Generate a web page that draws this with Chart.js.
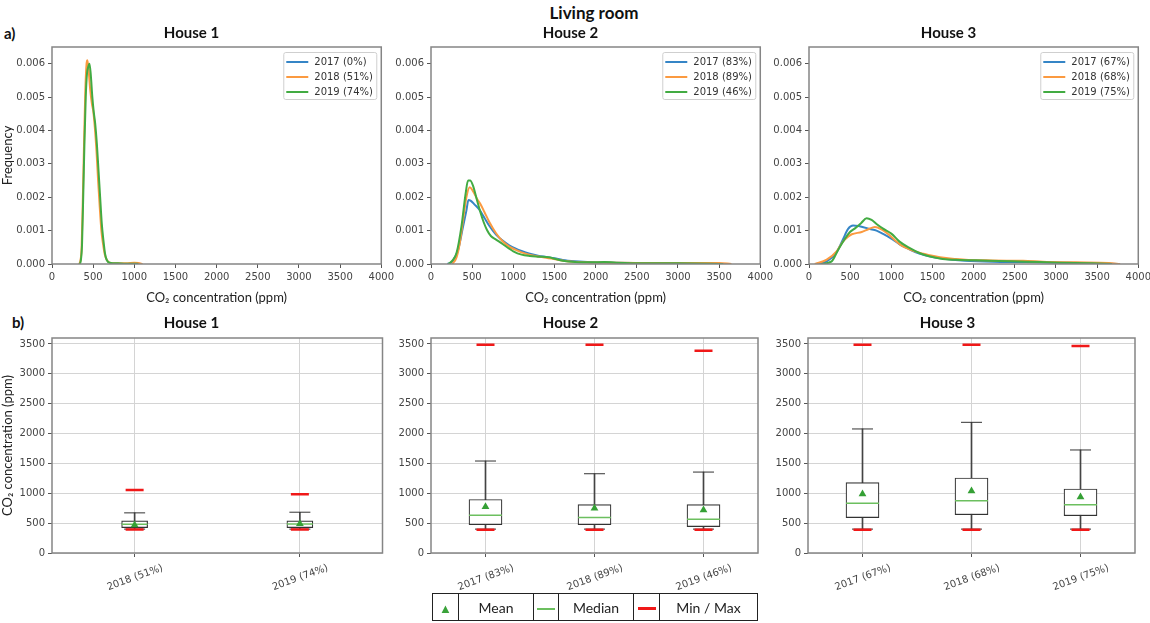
<!DOCTYPE html>
<html>
<head>
<meta charset="utf-8">
<script src="https://cdn.jsdelivr.net/npm/chart.js@4.4.0/dist/chart.umd.min.js"></script>
<style>
  body { margin: 0; background: #fff; width: 1150px; height: 623px; position: relative; overflow: hidden; font-family: Lato, sans-serif; }
  canvas { position: absolute; }
  .head { position: absolute; font-weight: bold; color: #111; white-space: nowrap; }
  #key { position: absolute; left: 432px; top: 593px; border-collapse: collapse; font-size: 14px; color: #222; }
  #key td { border: 1px solid #222; height: 26px; padding: 0; text-align: center; }
  .tri { color: #3aa23a; font-size: 13px; }
  .dash { display: inline-block; width: 18px; height: 2px; vertical-align: middle; }
</style>
</head>
<body>
<div class="head" style="left:0;width:1188px;top:2px;text-align:center;font-size:17px">Living room</div>
<div class="head" style="left:4px;top:24px;font-size:15px">a)</div>
<div class="head" style="left:12px;top:313px;font-size:15px">b)</div>

<canvas id="d1" width="397" height="290"></canvas>
<canvas id="d2" width="397" height="290"></canvas>
<canvas id="d3" width="397" height="290"></canvas>
<canvas id="b1" width="397" height="295"></canvas>
<canvas id="b2" width="397" height="295"></canvas>
<canvas id="b3" width="397" height="295"></canvas>

<table id="key">
  <tr>
    <td style="width:25px"><span class="tri">&#9650;</span></td>
    <td style="width:74px">Mean</td>
    <td style="width:24px"><span class="dash" style="background:#6cbf5f"></span></td>
    <td style="width:74px">Median</td>
    <td style="width:25px"><span class="dash" style="background:#f01818;height:3px"></span></td>
    <td style="width:97px">Min / Max</td>
  </tr>
</table>

<script>
// ---- density curves: CO2 (ppm) vs frequency ----
const h1_2017_ppm = [];
const h1_2017_freq = [];
const h1_2018_ppm = [330, 345, 360, 375, 390, 405, 420, 430, 445, 465, 485, 500, 520, 540, 560, 580, 600, 620, 640, 660, 700, 800, 900, 1000, 1050, 1100];
const h1_2018_freq = [0, 0.0001, 0.0005, 0.0020, 0.0037, 0.0052, 0.0060, 0.0061, 0.0058, 0.0052, 0.0048, 0.0046, 0.0041, 0.0034, 0.0025, 0.0017, 0.0010, 0.0006, 0.0003, 0.00015, 0.00004, 0.00002, 0.00002, 0.00004, 0.00003, 0];
const h1_2019_ppm = [335, 350, 365, 380, 395, 410, 425, 440, 455, 470, 490, 505, 525, 545, 565, 585, 605, 625, 645, 665, 700, 800, 900, 1000, 1050];
const h1_2019_freq = [0, 0.0001, 0.0006, 0.0021, 0.0037, 0.0050, 0.0057, 0.0059, 0.0060, 0.0057, 0.0050, 0.0046, 0.0042, 0.0036, 0.0028, 0.0020, 0.0012, 0.0007, 0.0003, 0.00012, 0.00004, 0.00002, 0.00001, 0.00001, 0];

const h2_2017_ppm = [200, 260, 330, 390, 430, 455, 480, 530, 590, 650, 710, 790, 870, 950, 1030, 1100, 1200, 1300, 1400, 1500, 1600, 1750, 1950, 2200, 2600, 3000, 3400, 3600];
const h2_2017_freq = [0, 0.00008, 0.00043, 0.00113, 0.0016, 0.00192, 0.0019, 0.00178, 0.00162, 0.00138, 0.00114, 0.00088, 0.0007, 0.00056, 0.00046, 0.00039, 0.00031, 0.00025, 0.00021, 0.00017, 0.00012, 0.00008, 0.00005, 0.00004, 0.00003, 0.00002, 0.00001, 0];
const h2_2018_ppm = [260, 310, 350, 390, 430, 470, 510, 560, 600, 650, 710, 790, 870, 950, 1050, 1150, 1270, 1400, 1510, 1650, 1850, 2200, 2600, 3000, 3500, 3650];
const h2_2018_freq = [0, 0.0002, 0.00063, 0.00133, 0.002, 0.0023, 0.00218, 0.00195, 0.0018, 0.00155, 0.00125, 0.00092, 0.00068, 0.00052, 0.0004, 0.00031, 0.00024, 0.00019, 0.00014, 0.00008, 0.00005, 0.00004, 0.00003, 0.00003, 0.00003, 0];
const h2_2019_ppm = [210, 260, 310, 370, 420, 450, 475, 510, 560, 600, 640, 680, 730, 790, 870, 950, 1000, 1100, 1200, 1300, 1430, 1500, 1600, 1750, 1950, 2100, 2250, 2600, 3000, 3400, 3550];
const h2_2019_freq = [0, 0.0001, 0.00033, 0.00113, 0.0021, 0.0025, 0.0025, 0.00235, 0.0019, 0.00155, 0.00125, 0.00102, 0.00083, 0.00073, 0.0006, 0.00046, 0.00038, 0.00028, 0.00024, 0.00022, 0.0002, 0.00016, 0.0001, 0.00006, 0.00005, 0.00006, 0.00004, 0.00002, 0.00002, 0.00001, 0];

const h3_2017_ppm = [90, 215, 335, 415, 475, 535, 600, 660, 740, 820, 900, 1000, 1100, 1220, 1340, 1500, 1665, 1900, 2230, 2630, 3040, 3440, 3760];
const h3_2017_freq = [0, 0.00008, 0.00035, 0.00075, 0.00105, 0.00115, 0.00114, 0.0011, 0.00105, 0.001, 0.0009, 0.00076, 0.00059, 0.00044, 0.00031, 0.00021, 0.00015, 0.0001, 0.00007, 0.00006, 0.00004, 0.00002, 0];
const h3_2018_ppm = [70, 215, 335, 415, 475, 520, 640, 720, 800, 880, 960, 1040, 1120, 1220, 1340, 1500, 1665, 1900, 2150, 2400, 2600, 2840, 3240, 3640, 3780];
const h3_2018_freq = [0, 0.00013, 0.00038, 0.00068, 0.00082, 0.00089, 0.00096, 0.00104, 0.00111, 0.00104, 0.0009, 0.00072, 0.00056, 0.00044, 0.00034, 0.00025, 0.00018, 0.00013, 0.00011, 0.0001, 0.0001, 0.00007, 0.00005, 0.00003, 0];
const h3_2019_ppm = [150, 275, 355, 435, 495, 555, 635, 700, 760, 820, 900, 1000, 1100, 1220, 1340, 1460, 1625, 1830, 2030, 2310, 2630, 3040, 3440, 3680];
const h3_2019_freq = [0, 0.00008, 0.00043, 0.00075, 0.00095, 0.00106, 0.00123, 0.00137, 0.00132, 0.0012, 0.00106, 0.00091, 0.00067, 0.00048, 0.00033, 0.00023, 0.00015, 0.00012, 0.00011, 0.00009, 0.00007, 0.00004, 0.00002, 0];

const h1_keys = ['2017 (0%)', '2018 (51%)', '2019 (74%)'];
const h2_keys = ['2017 (83%)', '2018 (89%)', '2019 (46%)'];
const h3_keys = ['2017 (67%)', '2018 (68%)', '2019 (75%)'];

const freqTicks = [0, 0.001, 0.002, 0.003, 0.004, 0.005, 0.006];
const ppmTicks = [0, 500, 1000, 1500, 2000, 2500, 3000, 3500, 4000];

// ---- box plot statistics (ppm) ----
const h1_cats = ['2018 (51%)', '2019 (74%)'];
const h1_min = [392, 392];
const h1_lo = [400, 400];
const h1_q1 = [425, 425];
const h1_median = [481, 485];
const h1_mean = [470, 490];
const h1_q3 = [537, 537];
const h1_hi = [672, 683];
const h1_max = [1053, 985];

const h2_cats = ['2017 (83%)', '2018 (89%)', '2019 (46%)'];
const h2_min = [390, 390, 390];
const h2_lo = [400, 400, 400];
const h2_q1 = [476, 476, 442];
const h2_median = [633, 594, 566];
const h2_mean = [773, 750, 722];
const h2_q3 = [896, 812, 812];
const h2_hi = [1540, 1327, 1355];
const h2_max = [3488, 3488, 3388];

const h3_cats = ['2017 (67%)', '2018 (68%)', '2019 (75%)'];
const h3_min = [391, 391, 391];
const h3_lo = [400, 400, 400];
const h3_q1 = [592, 642, 625];
const h3_median = [832, 876, 809];
const h3_mean = [988, 1038, 938];
const h3_q3 = [1178, 1256, 1072];
const h3_hi = [2077, 2188, 1725];
const h3_max = [3489, 3489, 3467];

const ppmBoxTicks = [0, 500, 1000, 1500, 2000, 2500, 3000, 3500];

const yearColors = ['#3585c6', '#fb9a40', '#42ab42'];
const tickFont = { family: 'DejaVu Sans', size: 10 };
const labelFont = { family: 'Lato', size: 13 };
const titleFont = { family: 'Lato', size: 15, weight: 'bold', lineHeight: 1.2 };

// frame round the plot area (all four sides)
const frame = {
  id: 'frame',
  afterDatasetsDraw(chart) {
    const { ctx, chartArea: a } = chart;
    ctx.save();
    ctx.strokeStyle = '#858585';
    ctx.lineWidth = 1.5;
    ctx.strokeRect(a.left, a.top, a.width, a.height);
    ctx.restore();
  }
};

// small legend box in the upper right corner of the density plots
const cornerKey = {
  id: 'cornerKey',
  afterDraw(chart) {
    const { ctx, chartArea: a } = chart;
    const w = 93, h = 47;
    const x0 = a.right - 5 - w, y0 = a.top + 5;
    ctx.save();
    ctx.fillStyle = 'rgba(255,255,255,0.85)';
    ctx.strokeStyle = '#cfcfcf';
    ctx.lineWidth = 1;
    ctx.beginPath();
    ctx.roundRect(x0 + 0.5, y0 + 0.5, w, h, 2);
    ctx.fill();
    ctx.stroke();
    ctx.font = '10px "DejaVu Sans"';
    ctx.textBaseline = 'middle';
    chart.data.datasets.forEach((ds, i) => {
      const y = y0 + 10 + i * 15;
      ctx.strokeStyle = ds.borderColor;
      ctx.lineWidth = 2;
      ctx.beginPath();
      ctx.moveTo(x0 + 3, y);
      ctx.lineTo(x0 + 25, y);
      ctx.stroke();
      ctx.fillStyle = '#333';
      ctx.fillText(ds.label, x0 + 31, y);
    });
    ctx.restore();
  }
};

function place(id, left, top) {
  const c = document.getElementById(id);
  c.style.left = left + 'px';
  c.style.top = top + 'px';
  return c;
}

function pairs(xs, ys) {
  return xs.map((x, i) => ({ x: x, y: ys[i] }));
}

function densityChart(id, left, title, keys, series, showYTitle) {
  const canvas = place(id, left - 52, 20);
  return new Chart(canvas, {
    type: 'line',
    data: {
      datasets: series.map((s, i) => ({
        label: keys[i],
        data: pairs(s[0], s[1]),
        borderColor: yearColors[i],
        borderWidth: 2,
        pointRadius: 0,
        cubicInterpolationMode: 'monotone',
        order: 2 - i
      }))
    },
    options: {
      responsive: false,
      animation: false,
      events: [],
      layout: { padding: { right: 14 } },
      plugins: {
        legend: { display: false },
        tooltip: { enabled: false },
        title: { display: true, text: title, color: '#111', font: titleFont, padding: { top: 4, bottom: 5 } }
      },
      scales: {
        x: {
          type: 'linear', min: 0, max: 4000,
          afterBuildTicks: s => { s.ticks = ppmTicks.map(v => ({ value: v })); },
          afterFit: s => { s.height = 46; },
          ticks: { font: tickFont, color: '#444', padding: 3, maxRotation: 0, callback: v => String(v) },
          grid: { drawOnChartArea: false, tickLength: 4, tickColor: '#555' },
          border: { display: false },
          title: { display: true, text: 'CO₂ concentration (ppm)', font: labelFont, color: '#222', padding: { top: 0, bottom: 4 } }
        },
        y: {
          min: 0, max: 0.0065,
          afterBuildTicks: s => { s.ticks = freqTicks.map(v => ({ value: v })); },
          afterFit: s => { s.width = 52; },
          ticks: { font: tickFont, color: '#444', padding: 3, callback: v => v.toFixed(3) },
          grid: { drawOnChartArea: false, tickLength: 4, tickColor: '#555' },
          border: { display: false },
          title: { display: showYTitle, text: 'Frequency', font: labelFont, color: '#222', padding: { top: 0, bottom: 0 } }
        }
      }
    },
    plugins: [frame, cornerKey]
  });
}

function boxChart(id, left, title, cats, st, boxWidth, showYTitle) {
  const canvas = place(id, left - 52, 310);
  const marks = (data, style, radius, color, width, order) => ({
    type: 'line', data: data, showLine: false, order: order,
    pointStyle: style, pointRadius: radius,
    pointBorderColor: color, pointBackgroundColor: color, pointBorderWidth: width
  });
  return new Chart(canvas, {
    type: 'bar',
    data: {
      labels: cats,
      datasets: [
        // whisker from lower to upper limit, mostly hidden by the box
        { data: st.lo.map((v, i) => [v, st.hi[i]]), backgroundColor: '#444', barThickness: 1, grouped: false, order: 5 },
        { data: st.q1.map((v, i) => [v, st.q3[i]]), backgroundColor: '#fff', borderColor: '#333', borderWidth: 1.2,
          borderSkipped: false, barThickness: boxWidth, grouped: false, order: 4 },
        marks(st.hi, 'line', 10.5, '#333', 1, 3),
        marks(st.lo, 'line', 10.5, '#333', 1, 3),
        marks(st.median, 'line', boxWidth / 2, '#6cbf5f', 1.5, 2),
        marks(st.mean, 'triangle', 4.5, '#35a035', 0, 1),
        marks(st.min, 'line', 9, '#f01818', 2.5, 0),
        marks(st.max, 'line', 9, '#f01818', 2.5, 0)
      ]
    },
    options: {
      responsive: false,
      animation: false,
      events: [],
      layout: { padding: { right: 14 } },
      plugins: {
        legend: { display: false },
        tooltip: { enabled: false },
        title: { display: true, text: title, color: '#111', font: titleFont, padding: { top: 4, bottom: 6 } }
      },
      scales: {
        x: {
          offset: true,
          afterFit: s => { s.height = 52; },
          ticks: { font: { family: 'DejaVu Sans', size: 10 }, color: '#444', padding: 5, minRotation: 20, maxRotation: 20, labelOffset: 28 },
          grid: { offset: false, color: '#d4d4d4', tickLength: 4, tickColor: '#555' },
          border: { display: false }
        },
        y: {
          min: 0, max: 3600,
          afterBuildTicks: s => { s.ticks = ppmBoxTicks.map(v => ({ value: v })); },
          afterFit: s => { s.width = 52; },
          ticks: { font: tickFont, color: '#444', padding: 3, callback: v => String(v) },
          grid: { color: '#d4d4d4', tickLength: 4, tickColor: '#555' },
          border: { display: false },
          title: { display: showYTitle, text: 'CO₂ concentration (ppm)', font: labelFont, color: '#222', padding: { top: 0, bottom: 0 } }
        }
      }
    },
    plugins: [frame]
  });
}

densityChart('d1', 52, 'House 1', h1_keys,
  [[h1_2017_ppm, h1_2017_freq], [h1_2018_ppm, h1_2018_freq], [h1_2019_ppm, h1_2019_freq]], true);
densityChart('d2', 431, 'House 2', h2_keys,
  [[h2_2017_ppm, h2_2017_freq], [h2_2018_ppm, h2_2018_freq], [h2_2019_ppm, h2_2019_freq]], false);
densityChart('d3', 809, 'House 3', h3_keys,
  [[h3_2017_ppm, h3_2017_freq], [h3_2018_ppm, h3_2018_freq], [h3_2019_ppm, h3_2019_freq]], false);

boxChart('b1', 52, 'House 1', h1_cats,
  { min: h1_min, lo: h1_lo, q1: h1_q1, median: h1_median, mean: h1_mean, q3: h1_q3, hi: h1_hi, max: h1_max }, 26, true);
boxChart('b2', 431, 'House 2', h2_cats,
  { min: h2_min, lo: h2_lo, q1: h2_q1, median: h2_median, mean: h2_mean, q3: h2_q3, hi: h2_hi, max: h2_max }, 33, false);
boxChart('b3', 808, 'House 3', h3_cats,
  { min: h3_min, lo: h3_lo, q1: h3_q1, median: h3_median, mean: h3_mean, q3: h3_q3, hi: h3_hi, max: h3_max }, 33, false);
</script>
</body>
</html>
